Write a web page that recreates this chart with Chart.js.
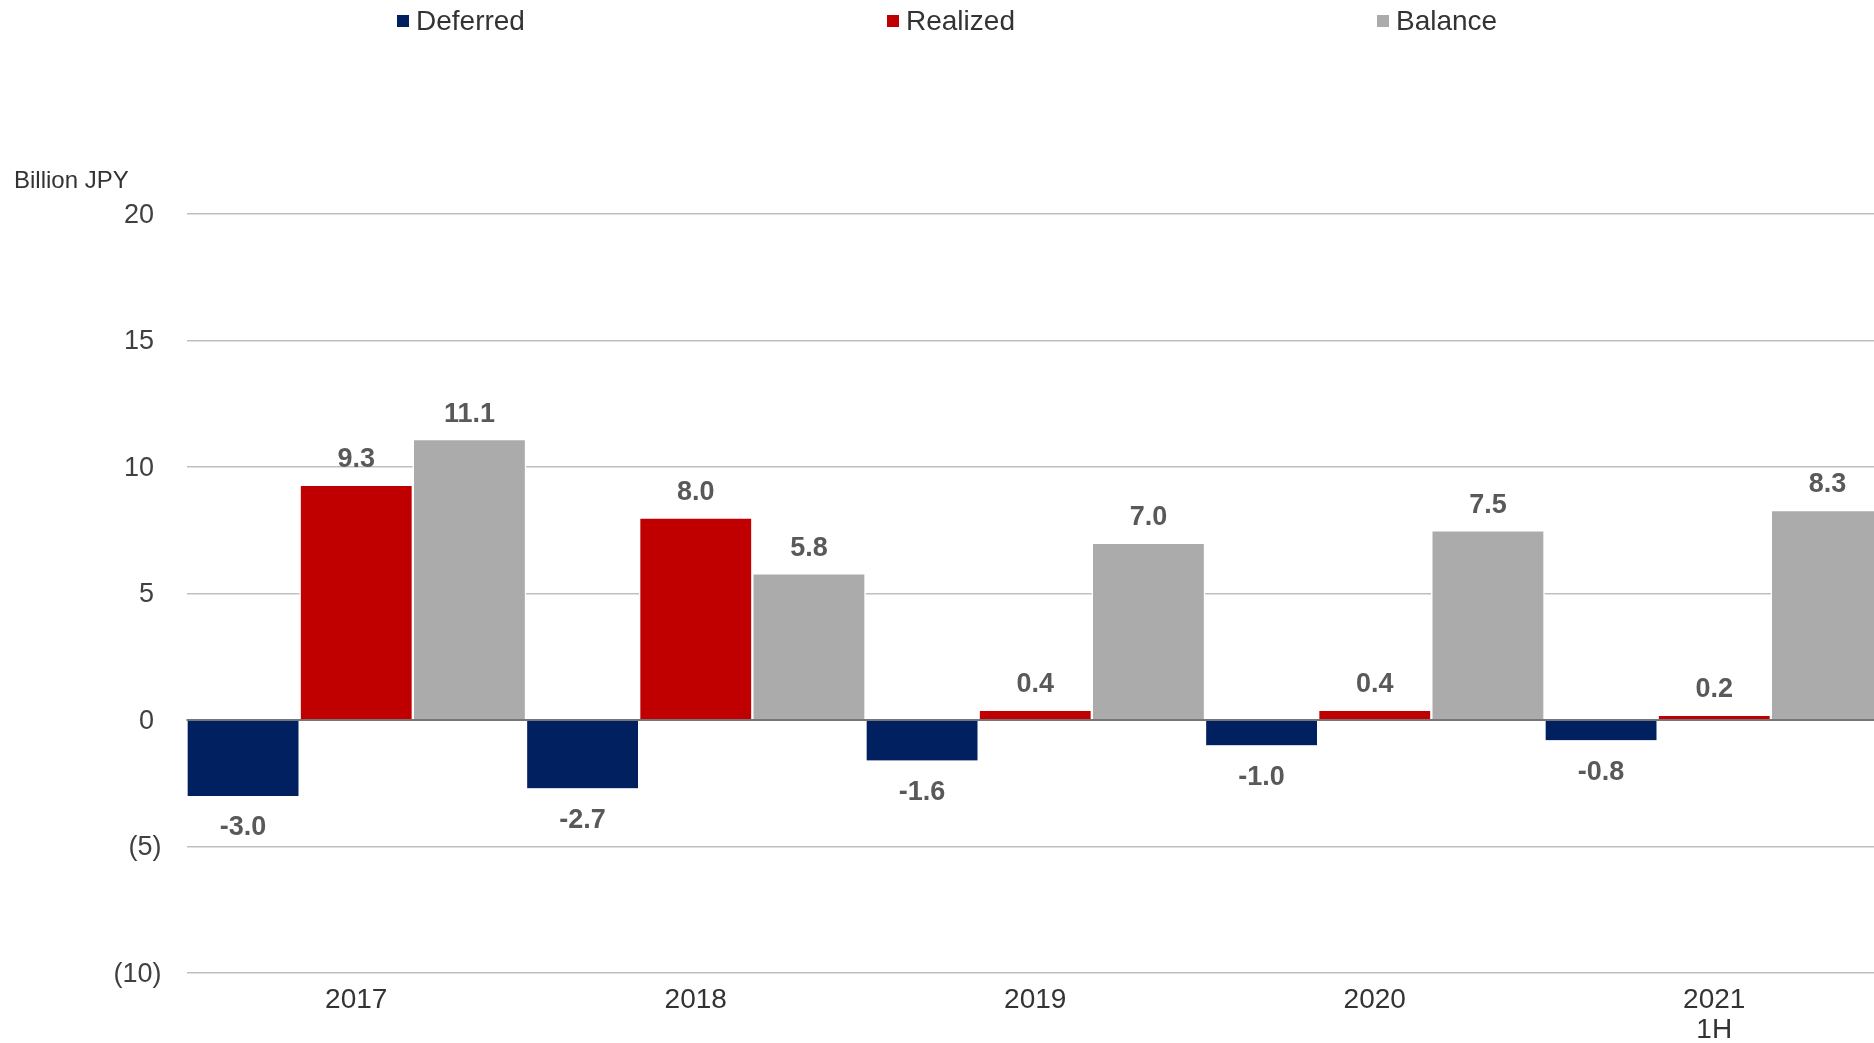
<!DOCTYPE html>
<html>
<head>
<meta charset="utf-8">
<title>Deferred / Realized / Balance</title>
<script src="https://cdn.jsdelivr.net/npm/chart.js@4.4.1/dist/chart.umd.min.js"></script>
<style>
  html, body { margin: 0; padding: 0; background: #ffffff; overflow: hidden; }
  #wrap { position: absolute; left: 0; top: 0; width: 1900px; height: 1043px; }
</style>
</head>
<body>
<div id="wrap"><canvas id="chart"></canvas></div>
<script>
// Fiscal periods shown on the x axis (multi-line label for the half year)
const categories = ['2017', '2018', '2019', '2020', ['2021', '1H']];

// Values in billion JPY
const deferred = [-3.0, -2.7, -1.6, -1.0, -0.8];
const realized = [9.3, 8.0, 0.4, 0.4, 0.2];
const balance  = [11.1, 5.8, 7.0, 7.5, 8.3];

const seriesNames = ['Deferred', 'Realized', 'Balance'];
const seriesColors = ['#002060', '#C00000', '#ABABAB'];

// Y axis range and tick step
const yMin = -10, yMax = 20, yStep = 5;

const FONT = '"Liberation Sans", Arial, Helvetica, sans-serif';

// Value labels above positive bars and below negative bars
const valueLabels = {
  id: 'valueLabels',
  afterDatasetsDraw(chart) {
    const ctx = chart.ctx;
    ctx.save();
    ctx.font = 'bold 27px ' + FONT;
    ctx.fillStyle = '#595959';
    ctx.textAlign = 'center';
    ctx.textBaseline = 'middle';
    chart.data.datasets.forEach((ds, i) => {
      const meta = chart.getDatasetMeta(i);
      meta.data.forEach((bar, j) => {
        const v = ds.data[j];
        const y = v >= 0 ? bar.y - 25 : bar.y + 32;
        ctx.fillText(v.toFixed(1), bar.x, y);
      });
    });
    ctx.restore();
  }
};

// Zero line drawn over the bars
const zeroLine = {
  id: 'zeroLine',
  afterDatasetsDraw(chart) {
    const { ctx, chartArea, scales } = chart;
    const y = scales.y.getPixelForValue(0);
    ctx.save();
    ctx.strokeStyle = '#767676';
    ctx.lineWidth = 2;
    ctx.beginPath();
    ctx.moveTo(chartArea.left, y);
    ctx.lineTo(chartArea.right, y);
    ctx.stroke();
    ctx.restore();
  }
};

// Header: legend row and the unit caption
const header = {
  id: 'header',
  afterDraw(chart) {
    const ctx = chart.ctx;
    ctx.save();
    const itemX = [397, 887, 1377];
    chart.data.datasets.forEach((ds, i) => {
      ctx.fillStyle = ds.backgroundColor;
      ctx.fillRect(itemX[i], 15, 12, 12);
      ctx.fillStyle = '#333333';
      ctx.font = '28px ' + FONT;
      ctx.textAlign = 'left';
      ctx.textBaseline = 'middle';
      ctx.fillText(ds.label, itemX[i] + 19, 22.5);
    });
    ctx.font = '24px ' + FONT;
    ctx.fillStyle = '#333333';
    ctx.textAlign = 'left';
    ctx.textBaseline = 'middle';
    ctx.fillText('Billion JPY', 14, 181.5);
    ctx.restore();
  }
};

const barStyle = {
  borderColor: '#ffffff',
  borderWidth: { left: 1.5, right: 1.5, top: 1.5, bottom: 0 },
  borderSkipped: 'start',
  categoryPercentage: 1.0,
  barPercentage: 1.0
};

new Chart(document.getElementById('chart'), {
  type: 'bar',
  data: {
    labels: categories,
    datasets: [
      Object.assign({ label: seriesNames[0], data: deferred, backgroundColor: seriesColors[0] }, barStyle),
      Object.assign({ label: seriesNames[1], data: realized, backgroundColor: seriesColors[1] }, barStyle),
      Object.assign({ label: seriesNames[2], data: balance,  backgroundColor: seriesColors[2] }, barStyle)
    ]
  },
  options: {
    responsive: true,
    maintainAspectRatio: false,
    animation: false,
    layout: { padding: { top: 214, right: 16, bottom: 0, left: 0 } },
    plugins: {
      legend: { display: false },
      tooltip: { enabled: false },
      title: { display: false }
    },
    scales: {
      x: {
        grid: { display: false, drawTicks: false },
        border: { display: false },
        ticks: {
          color: '#333333',
          font: { family: FONT, size: 28, lineHeight: 1.08 },
          padding: 12,
          maxRotation: 0,
          autoSkip: false
        },
        afterFit(scale) { scale.height = 70; }
      },
      y: {
        min: yMin,
        max: yMax,
        grid: { color: '#BFBFBF', lineWidth: 1.5, drawTicks: false },
        border: { display: false },
        ticks: {
          stepSize: yStep,
          color: '#404040',
          font: { family: FONT, size: 27 },
          padding: 25,
          labelOffset: 1.5,
          callback: (v) => v < 0 ? '(' + Math.abs(v) + ')' : v + ' '
        },
        afterFit(scale) { scale.width = 186.5; }
      }
    }
  },
  plugins: [zeroLine, valueLabels, header]
});
</script>
</body>
</html>
